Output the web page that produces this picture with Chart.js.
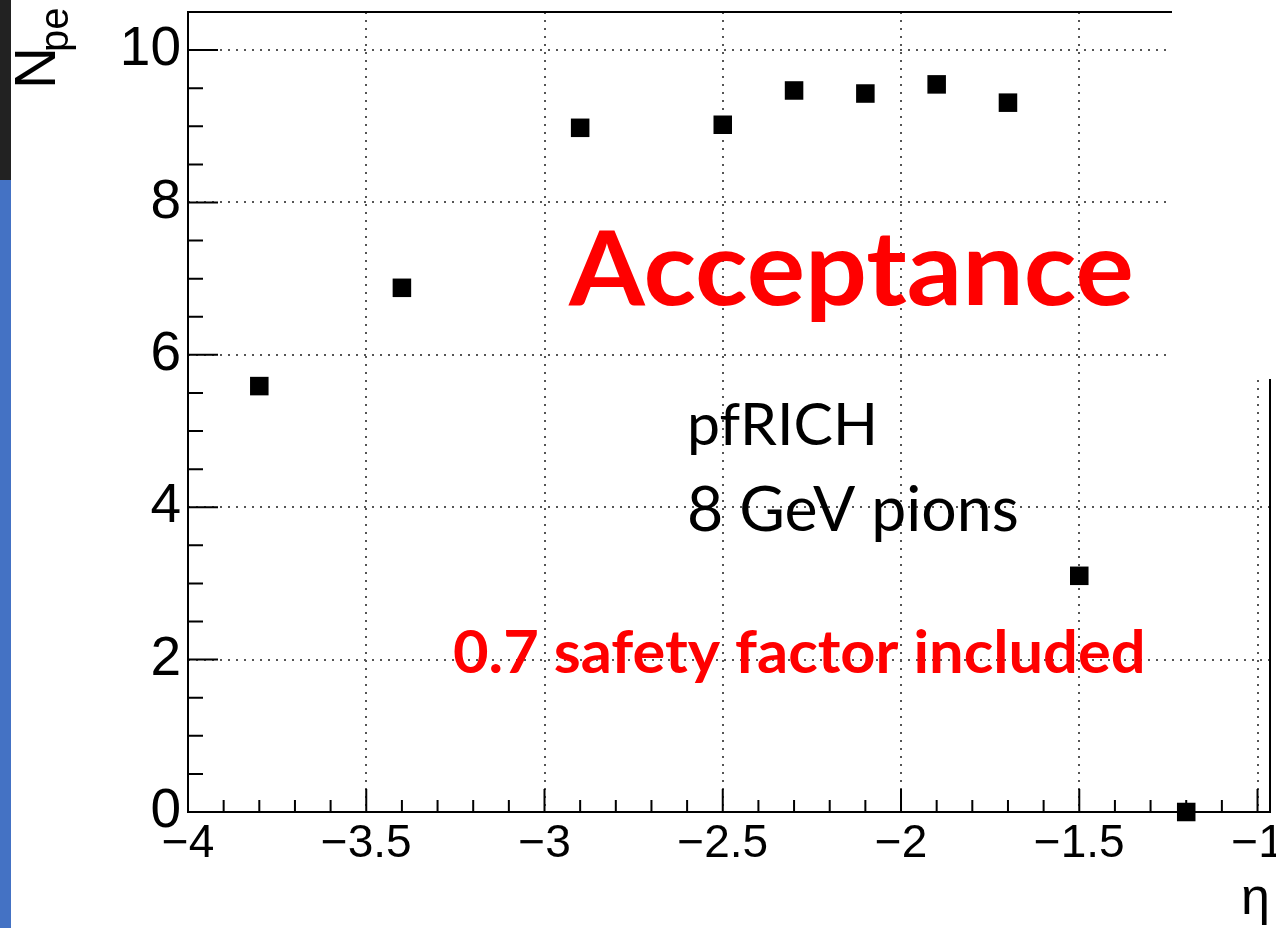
<!DOCTYPE html>
<html lang="en">
<head>
<meta charset="UTF-8">
<title>pfRICH Npe vs eta</title>
<script src="https://cdn.jsdelivr.net/npm/chart.js@4.4.0/dist/chart.umd.min.js"></script>
<style>
  html, body { margin: 0; padding: 0; background: #fff; }
  #wrap { position: relative; width: 1276px; height: 928px; overflow: hidden; }
  #plot { position: absolute; left: 0; top: 0; }
  .bar-dark { position: absolute; left: 0; top: 0; width: 11px; height: 180px; background: #222; }
  .bar-blue { position: absolute; left: 0; top: 180px; width: 11px; height: 748px; background: #4472c4; }
  .cover { position: absolute; left: 1172px; top: 0; width: 104px; height: 379px; background: #fff; }
</style>
</head>
<body>
<div id="wrap">
  <canvas id="plot" width="1276" height="928"></canvas>
  <div class="cover"></div>
  <div class="bar-dark"></div>
  <div class="bar-blue"></div>
</div>

<script>
  // photoelectrons per track vs pseudorapidity
  const eta = [-3.8, -3.4, -2.9, -2.5, -2.3, -2.1, -1.9, -1.7, -1.5, -1.2];
  const npe = [5.59, 6.88, 8.98, 9.02, 9.47, 9.43, 9.55, 9.31, 3.10, 0.0];

  const etaRange = [-4, -0.965];
  const npeRange = [0, 10.5];

  const notes = [
    { text: 'Acceptance', weight: 700, color: '#ff0000', left: 568, base: 305, width: 563, cap: 76 },
    { text: 'pfRICH', weight: 400, color: '#000', left: 691, base: 445, width: 182, cap: 43 },
    { text: '8 GeV pions', weight: 400, color: '#000', left: 689, base: 531, width: 328, cap: 45 },
    { text: '0.7 safety factor included', weight: 700, color: '#ff0000', left: 454, base: 673, width: 688, cap: 43 }
  ];

  const axisFont = '"Liberation Sans", Arial, sans-serif';
  const noteFont = 'Lato, "Open Sans", sans-serif';

  function fmt(v) {
    return v < 0 ? '\u2212' + Math.abs(v) : String(v);
  }

  // draw a line of text so its ink fills the given width and cap height
  function fitText(ctx, t) {
    ctx.save();
    ctx.font = t.weight + ' 100px ' + noteFont;
    const capRatio = ctx.measureText('H').actualBoundingBoxAscent / 100;
    const size = t.cap / capRatio;
    ctx.font = t.weight + ' ' + size + 'px ' + noteFont;
    const m = ctx.measureText(t.text);
    const ink = m.actualBoundingBoxLeft + m.actualBoundingBoxRight;
    ctx.translate(t.left, t.base);
    ctx.scale(t.width / ink, 1);
    ctx.fillStyle = t.color;
    ctx.textAlign = 'left';
    ctx.textBaseline = 'alphabetic';
    ctx.fillText(t.text, m.actualBoundingBoxLeft, 0);
    ctx.restore();
  }

  // ROOT-like frame with inward ticks, y title and text boxes
  const rootFrame = {
    id: 'rootFrame',
    afterDraw(chart) {
      const { ctx, chartArea: a, scales: { x, y } } = chart;
      ctx.save();
      ctx.strokeStyle = '#000';
      ctx.lineWidth = 2;
      ctx.strokeRect(a.left, a.top, a.right - a.left, a.bottom - a.top);

      ctx.beginPath();
      for (let i = 0; ; i++) {
        const v = x.min + i * 0.1;
        if (v > x.max + 1e-9) break;
        const px = x.getPixelForValue(v);
        ctx.moveTo(px, a.bottom);
        ctx.lineTo(px, a.bottom - (i % 5 === 0 ? 23 : 12));
      }
      for (let i = 0; ; i++) {
        const v = y.min + i * 0.5;
        if (v > y.max + 1e-9) break;
        const py = y.getPixelForValue(v);
        ctx.moveTo(a.left, py);
        ctx.lineTo(a.left + (i % 4 === 0 ? 30 : 15), py);
      }
      ctx.stroke();

      // N_pe
      ctx.translate(55, 89);
      ctx.rotate(-Math.PI / 2);
      ctx.fillStyle = '#000';
      ctx.textBaseline = 'alphabetic';
      ctx.font = '58px ' + axisFont;
      ctx.fillText('N', 0, 0);
      ctx.font = '40px ' + axisFont;
      ctx.fillText('pe', 37, 13);
      ctx.restore();

      notes.forEach(n => fitText(ctx, n));
    }
  };

  const gridStyle = { color: '#555', lineWidth: 2, drawTicks: false };
  const borderStyle = { display: false, dash: [2, 6] };

  new Chart(document.getElementById('plot'), {
    type: 'scatter',
    data: {
      datasets: [{
        data: eta.map((e, i) => ({ x: e, y: npe[i] })),
        pointStyle: 'rect',
        pointRadius: 13.1,
        pointHoverRadius: 13.1,
        backgroundColor: '#000',
        borderWidth: 0,
        clip: false
      }]
    },
    options: {
      responsive: false,
      animation: false,
      events: [],
      layout: { autoPadding: false, padding: { top: 12, right: 6, bottom: 0, left: 0 } },
      plugins: { legend: { display: false }, tooltip: { enabled: false } },
      scales: {
        x: {
          type: 'linear',
          min: etaRange[0],
          max: etaRange[1],
          grid: gridStyle,
          border: borderStyle,
          ticks: {
            stepSize: 0.5,
            includeBounds: false,
            autoSkip: false,
            maxRotation: 0,
            padding: 5,
            color: '#000',
            font: { family: axisFont, size: 46 },
            callback: v => fmt(v)
          },
          title: {
            display: true,
            text: 'η',
            align: 'end',
            color: '#000',
            font: { family: axisFont, size: 52 },
            padding: { top: 0, bottom: -3 }
          },
          afterFit(s) {
            s.height = 116;
            s.paddingLeft = 0;
            s.paddingRight = 0;
          }
        },
        y: {
          min: npeRange[0],
          max: npeRange[1],
          grid: gridStyle,
          border: borderStyle,
          ticks: {
            stepSize: 2,
            includeBounds: false,
            padding: 7,
            color: '#000',
            font: { family: axisFont, size: 55 },
            callback: v => fmt(v)
          },
          afterFit(s) {
            s.width = 188;
            s.paddingTop = 0;
            s.paddingBottom = 0;
          }
        }
      }
    },
    plugins: [rootFrame]
  });
</script>
</body>
</html>
